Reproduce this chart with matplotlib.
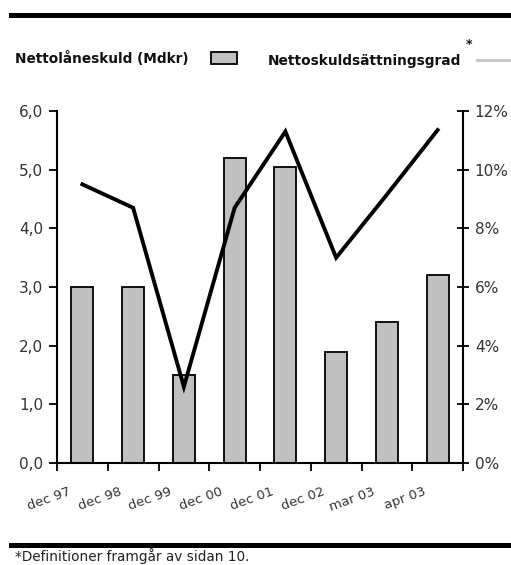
import matplotlib
matplotlib.use("Agg")
import matplotlib.pyplot as plt
from matplotlib.lines import Line2D
from matplotlib.patches import Rectangle
import matplotlib.transforms as mtransforms

categories = ["dec 97", "dec 98", "dec 99", "dec 00", "dec 01", "dec 02", "mar 03", "apr 03"]
nettolaneskuld = [3.0, 3.0, 1.5, 5.2, 5.05, 1.9, 2.4, 3.2]
skuldsattningsgrad = [9.5, 8.7, 2.6, 8.7, 11.3, 7.0, 9.15, 11.35]
left_ticks = [0, 1, 2, 3, 4, 5, 6]
left_labels = ["0,0", "1,0", "2,0", "3,0", "4,0", "5,0", "6,0"]
right_ticks = [0, 2, 4, 6, 8, 10, 12]
right_labels = ["0%", "2%", "4%", "6%", "8%", "10%", "12%"]

W, H = 511, 565
fig = plt.figure(figsize=(W / 100, H / 100), dpi=100)
plt.rcParams['font.family'] = ['DejaVu Sans']

def fx(px):
    return px / W

def fy(py):
    return 1 - py / H

tick_color = "#333333"

ax = fig.add_axes([fx(57), fy(463), fx(463) - fx(57), fy(111) - fy(463)])
x = list(range(len(categories)))
ax.bar(x, nettolaneskuld, width=0.43, color="#c0c0c0", edgecolor="black", linewidth=1.3, zorder=2)
ax.set_xlim(-0.5, len(categories) - 0.5)
ax.set_ylim(0, 6)
ax.set_yticks(left_ticks)
ax.set_yticklabels(left_labels, fontsize=11, color=tick_color)
ax.tick_params(axis="y", direction="out", length=6, width=1.3, pad=4)

# boundaries as major ticks, labels at centres as minor ticks
ax.set_xticks([i - 0.5 for i in range(len(categories) + 1)])
ax.set_xticklabels([""] * (len(categories) + 1))
ax.tick_params(axis="x", which="major", direction="out", length=6, width=1.3)
ax.set_xticks(x, minor=True)
ax.set_xticklabels(categories, minor=True, fontsize=9.5, rotation=20, ha="right", color=tick_color)
ax.tick_params(axis="x", which="minor", length=0, pad=16)
offset = mtransforms.ScaledTranslation(-10 / 100, 0, fig.dpi_scale_trans)
for lab in ax.xaxis.get_minorticklabels():
    lab.set_transform(lab.get_transform() + offset)

for s in ["top", "right"]:
    ax.spines[s].set_visible(False)
for s in ["left", "bottom"]:
    ax.spines[s].set_linewidth(1.5)

ax2 = ax.twinx()
ax2.plot(x, skuldsattningsgrad, color="black", linewidth=2.8, solid_joinstyle="miter", zorder=3)
ax2.set_ylim(0, 12)
ax2.set_yticks(right_ticks)
ax2.set_yticklabels(right_labels, fontsize=11, color=tick_color)
ax2.tick_params(axis="y", direction="inout", length=9, width=1.3, pad=4)
for s in ["top", "left", "bottom"]:
    ax2.spines[s].set_visible(False)
ax2.spines["right"].set_linewidth(1.5)

# top and bottom rules
fig.add_artist(Line2D([fx(11), 1], [fy(14.8), fy(14.8)], color="black", linewidth=3.6))
fig.add_artist(Line2D([fx(11), 1], [fy(545), fy(545)], color="black", linewidth=3.6))

# legend
fig.text(fx(15), fy(63), "Nettolåneskuld (Mdkr)", fontsize=9.8, fontweight="bold", color="#111111",
         ha="left", va="baseline")
fig.add_artist(Rectangle((fx(211), fy(63.5)), fx(237) - fx(211), fy(52) - fy(63.5),
                         facecolor="#c0c0c0", edgecolor="black", linewidth=1.3))
fig.text(fx(268), fy(65), "Nettoskuldsättningsgrad", fontsize=9.9, fontweight="bold", color="#111111",
         ha="left", va="baseline")
fig.text(fx(466), fy(48), "*", fontsize=9, fontweight="bold", color="#111111", ha="left", va="baseline")
fig.add_artist(Line2D([fx(477), 1], [fy(59.5), fy(59.5)], color="#c8c8c8", linewidth=2.2))

# footnote
fig.text(fx(15), fy(561), "*Definitioner framgår av sidan 10.", fontsize=9.8, color="#222222",
         ha="left", va="baseline")

fig.savefig("out.png", dpi=100)
